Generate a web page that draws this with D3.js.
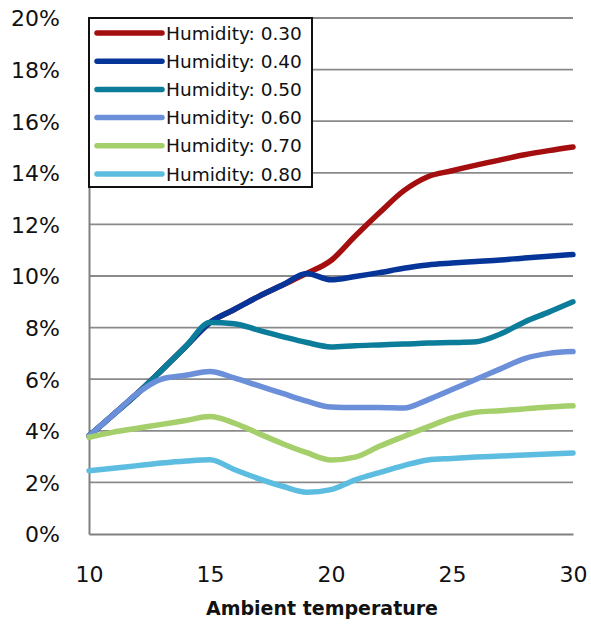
<!DOCTYPE html>
<html>
<head>
<meta charset="utf-8">
<script src="https://cdn.jsdelivr.net/npm/d3@7"></script>
<style>
  html, body { margin: 0; padding: 0; background: #fff; }
  svg { display: block; }
</style>
</head>
<body>
<svg id="chart" width="591" height="626"></svg>
<script>
// ---- data ----
const temperatures = [10, 11, 12, 13, 14, 15, 16, 17, 18, 19, 20, 21, 22, 23, 24, 25, 26, 27, 28, 29, 30];
const seriesNames = ["Humidity: 0.30", "Humidity: 0.40", "Humidity: 0.50", "Humidity: 0.60", "Humidity: 0.70", "Humidity: 0.80"];
const seriesColors = ["#A50E0E", "#06359A", "#0B7C99", "#6B8FD8", "#A4CF6A", "#5DBDE0"];
const humidity030 = [3.8, 4.62, 5.45, 6.35, 7.27, 8.2, 8.7, 9.2, 9.65, 10.1, 10.6, 11.55, 12.45, 13.3, 13.85, 14.08, 14.3, 14.5, 14.7, 14.86, 15.0];
const humidity040 = [3.8, 4.62, 5.45, 6.35, 7.27, 8.2, 8.7, 9.2, 9.65, 10.1, 9.85, 9.98, 10.13, 10.3, 10.43, 10.5, 10.56, 10.62, 10.7, 10.77, 10.83];
const humidity050 = [3.8, 4.62, 5.45, 6.35, 7.27, 8.2, 8.15, 7.9, 7.65, 7.42, 7.25, 7.3, 7.33, 7.36, 7.4, 7.42, 7.45, 7.75, 8.22, 8.6, 9.0];
const humidity060 = [3.8, 4.62, 5.45, 6.0, 6.15, 6.3, 6.05, 5.75, 5.45, 5.15, 4.92, 4.9, 4.9, 4.88, 5.2, 5.6, 6.0, 6.4, 6.8, 7.0, 7.07];
const humidity070 = [3.75, 3.95, 4.1, 4.25, 4.4, 4.55, 4.3, 3.9, 3.5, 3.15, 2.87, 2.98, 3.4, 3.78, 4.15, 4.5, 4.72, 4.78, 4.85, 4.92, 4.97];
const humidity080 = [2.45, 2.55, 2.65, 2.75, 2.83, 2.88, 2.5, 2.15, 1.85, 1.62, 1.72, 2.1, 2.38, 2.65, 2.87, 2.93, 2.98, 3.02, 3.06, 3.1, 3.14];
const xTicks = [10, 15, 20, 25, 30];
const yTicks = [0, 2, 4, 6, 8, 10, 12, 14, 16, 18, 20];
const xTitle = "Ambient temperature";

const allSeries = [humidity030, humidity040, humidity050, humidity060, humidity070, humidity080];

// ---- layout ----
const svg = d3.select("#chart");
const mLeft = 89, mRight = 573, mTop = 18, mBottom = 534;
const x = d3.scaleLinear().domain([10, 30]).range([mLeft, mRight]);
const y = d3.scaleLinear().domain([0, 20]).range([mBottom, mTop]);

// gridlines
svg.append("g").selectAll("line").data(yTicks.filter(d => d > 0)).join("line")
  .attr("x1", mLeft).attr("x2", mRight)
  .attr("y1", d => y(d)).attr("y2", d => y(d))
  .attr("stroke", "#8a8a8a").attr("stroke-width", 1.8);

// axes
const yAxis = d3.axisLeft(y).tickValues(yTicks).tickFormat(d => d + "%").tickSize(0).tickPadding(14);
const gy = svg.append("g").attr("transform", `translate(${mLeft},0)`).call(yAxis);
gy.select(".domain").attr("stroke", "#808080").attr("stroke-width", 2);
gy.selectAll("text").attr("font-family", "DejaVu Sans, sans-serif").attr("font-size", 22).attr("fill", "#111").attr("dy", "0.36em").attr("x", -29);

const xAxis = d3.axisBottom(x).tickValues(xTicks).tickSize(0).tickPadding(32);
const gx = svg.append("g").attr("transform", `translate(0,${mBottom})`).call(xAxis);
gx.select(".domain").attr("stroke", "#808080").attr("stroke-width", 2);
gx.selectAll("text").attr("font-family", "DejaVu Sans, sans-serif").attr("font-size", 22).attr("fill", "#111");

svg.append("text").attr("x", 322).attr("y", 615).attr("text-anchor", "middle")
  .attr("font-family", "DejaVu Sans, sans-serif").attr("font-weight", "bold").attr("font-size", 19)
  .attr("fill", "#111").text(xTitle);

// lines
const line = d3.line()
  .x((d, i) => x(temperatures[i]))
  .y(d => y(d))
  .curve(d3.curveMonotoneX);

svg.append("g").selectAll("path").data(allSeries).join("path")
  .attr("d", d => line(d))
  .attr("fill", "none")
  .attr("stroke", (d, i) => seriesColors[i])
  .attr("stroke-width", 5.5)
  .attr("stroke-linejoin", "round")
  .attr("stroke-linecap", "round");

// legend
const lg = svg.append("g");
lg.append("rect").attr("x", 89).attr("y", 18).attr("width", 223).attr("height", 169)
  .attr("fill", "#fff").attr("stroke", "#111").attr("stroke-width", 2);
const rows = lg.selectAll("g.row").data(seriesNames).join("g").attr("class", "row")
  .attr("transform", (d, i) => `translate(0,${33 + i * 28.2})`);
rows.append("line").attr("x1", 97).attr("x2", 162).attr("y1", 0).attr("y2", 0)
  .attr("stroke", (d, i) => seriesColors[i]).attr("stroke-width", 5.5).attr("stroke-linecap", "round");
rows.append("text").attr("x", 166).attr("y", 0).attr("dy", "0.36em")
  .attr("font-family", "DejaVu Sans, sans-serif").attr("font-size", 18.5).attr("fill", "#111")
  .text(d => d);
</script>
</body>
</html>
